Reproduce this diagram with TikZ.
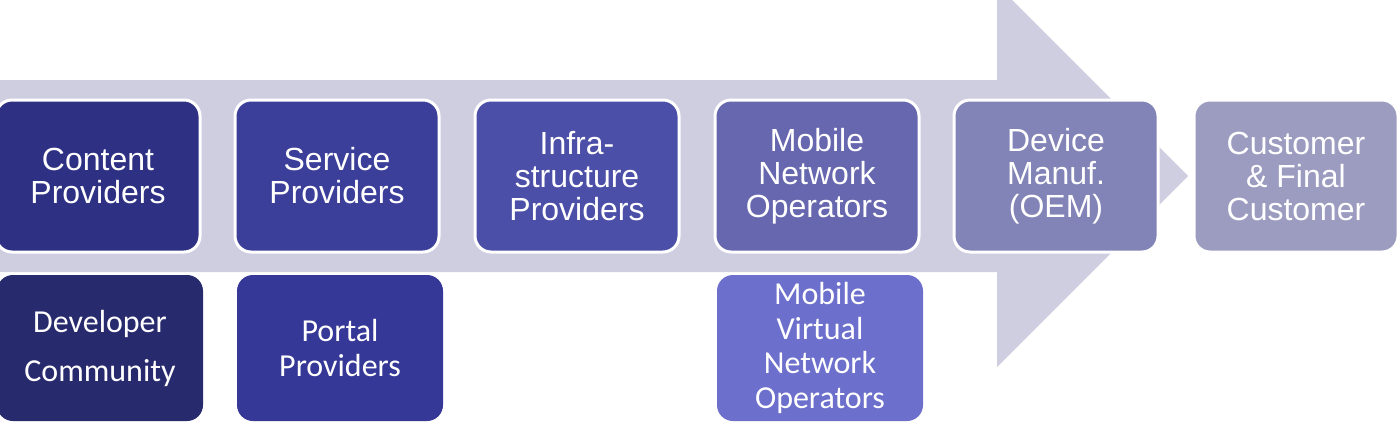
\documentclass[tikz,border=0pt]{standalone}
\usepackage{fontspec}
\setmainfont{Liberation Sans}
\newfontfamily\subfont{Carlito}
\definecolor{arrowgray}{HTML}{CECEE0}
\definecolor{contentcol}{HTML}{2E3084}
\definecolor{servicecol}{HTML}{3C3F99}
\definecolor{infracol}{HTML}{4C4FA8}
\definecolor{mnocol}{HTML}{6667AE}
\definecolor{devicecol}{HTML}{8283B6}
\definecolor{customercol}{HTML}{9C9CC1}
\definecolor{developercol}{HTML}{282A6E}
\definecolor{portalcol}{HTML}{363898}
\definecolor{mvnocol}{HTML}{6C6FCB}
\begin{document}
\begin{tikzpicture}[x=0.5pt,y=-0.5pt,inner sep=0pt,outer sep=0pt,
chainbox/.style={draw=white,line width=1.5pt,rounded corners=8pt,minimum width=102pt,minimum height=76pt,text=white,align=center,font=\fontsize{16}{16.5}\selectfont},
subbox/.style={rounded corners=8pt,minimum width=103pt,minimum height=73pt,text=white,align=center,font=\subfont\fontsize{16}{17.25}\selectfont}]
\useasboundingbox (0,0) rectangle (1398,434);
\clip (0,0) rectangle (1398,434);
\fill[arrowgray] (-5,80) -- (997,80) -- (997,-15) -- (1188,176) -- (997,367) -- (997,272) -- (-5,272) -- cycle;
\draw (98,176) node[chainbox,fill=contentcol] (content) {Content\\Providers};
\draw (337,176) node[chainbox,fill=servicecol] (service) {Service\\Providers};
\draw (577,176) node[chainbox,fill=infracol] (infra) {Infra-\\structure\\Providers};
\draw (817,176) node[chainbox,fill=mnocol] (mno) {Mobile\\Network\\Operators};
\draw (1056,176) node[chainbox,fill=devicecol] (device) {Device\\Manuf.\\(OEM)};
\draw (1296,176) node[chainbox,fill=customercol] (customer) {Customer\\\& Final\\Customer};
\draw (100,348) node[subbox,fill=developercol,font=\subfont\fontsize{16}{24.5}\selectfont] (developer) {Developer\\Community};
\draw (340,348) node[subbox,fill=portalcol] (portal) {Portal\\Providers};
\draw (820,348) node[subbox,fill=mvnocol] (mvno) {Mobile\\Virtual\\Network\\Operators};
\end{tikzpicture}
\end{document}
